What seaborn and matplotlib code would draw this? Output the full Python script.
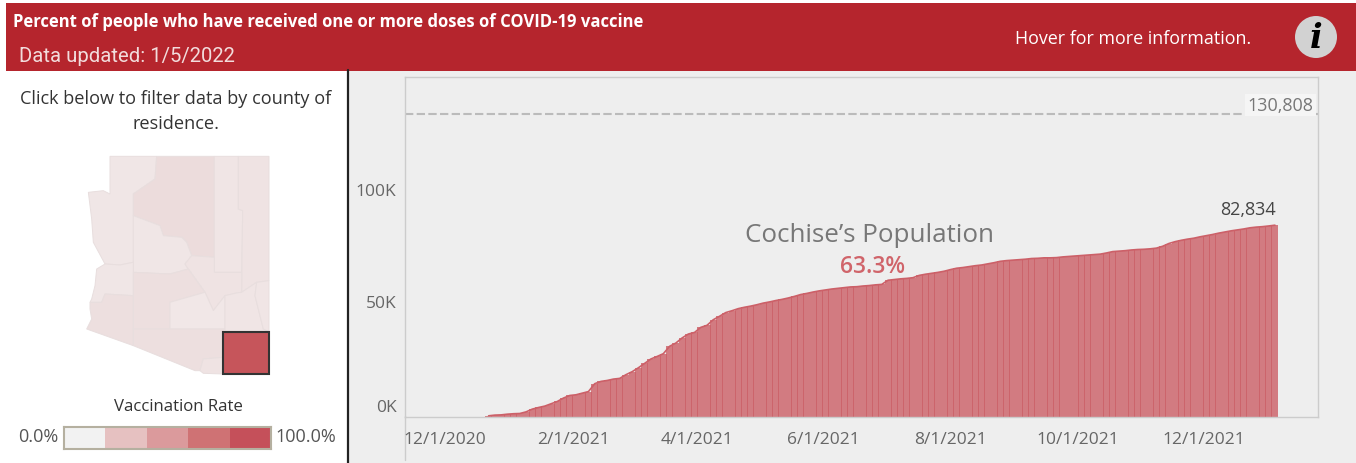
# plot.py: Cochise county vaccination dashboard, rebuilt with seaborn and matplotlib.

import matplotlib
matplotlib.use('Agg')
import matplotlib.dates as mdates
import matplotlib.pyplot as plt
import matplotlib.transforms as mtransforms
from matplotlib.colors import ListedColormap
from matplotlib.patches import Circle, Polygon, Rectangle
import numpy as np
import pandas as pd
import seaborn as sns

# Cumulative people with one or more doses (thousands), read every third day.
first_day = '2020-12-22'
doses_k = [
    0.3, 0.6, 0.7, 1.0, 1.2, 1.3, 2.0, 3.2, 3.9, 4.5,
    5.5, 6.5, 8.0, 9.1, 9.4, 10.1, 10.8, 14.2, 15.2, 15.6,
    16.2, 16.5, 18.1, 19.4, 21.1, 23.0, 24.9, 26.0, 27.2, 30.4,
    31.8, 34.0, 35.7, 36.4, 38.6, 39.5, 41.9, 43.4, 45.0, 45.8,
    46.7, 47.3, 47.8, 48.4, 49.1, 49.6, 50.2, 50.7, 51.3, 52.0,
    52.8, 53.3, 53.9, 54.4, 54.8, 55.2, 55.5, 55.8, 56.1, 56.2,
    56.5, 56.7, 57.0, 57.2, 59.0, 59.3, 59.6, 59.8, 60.1, 61.1,
    61.6, 62.0, 62.4, 62.9, 63.6, 64.2, 64.5, 64.9, 65.3, 65.6,
    66.1, 66.6, 67.2, 67.5, 67.7, 67.9, 68.1, 68.4, 68.5, 68.7,
    68.7, 68.8, 69.1, 69.3, 69.5, 69.7, 69.9, 70.1, 70.3, 70.8,
    71.4, 71.6, 71.8, 72.1, 72.3, 72.4, 72.6, 72.9, 73.7, 74.9,
    75.7, 76.3, 76.8, 77.2, 77.8, 78.3, 78.8, 79.4, 79.9, 80.4,
    80.8, 81.2, 81.7, 82.0, 82.2, 82.5, 82.834,
]
population = 130808
y_ticks = [0, 50000, 100000]
y_tick_labels = ['0K', '50K', '100K']
x_tick_dates = ['2020-12-01', '2021-02-01', '2021-04-01', '2021-06-01', '2021-08-01', '2021-10-01', '2021-12-01']
x_tick_labels = ['12/1/2020', '2/1/2021', '4/1/2021', '6/1/2021', '8/1/2021', '10/1/2021', '12/1/2021']
legend_colors = ['#f2f2f2', '#e6c1c1', '#db9a9c', '#cf7274', '#c5505a']

W, H = 1356, 464
RED = '#b5252d'


def px_box(x0, y0, x1, y1):
    # Turn a pixel box (origin top left) into figure coordinates.
    return [x0 / W, 1 - y1 / H, (x1 - x0) / W, (y1 - y0) / H]


# County outlines, in pixels of a 3x crop whose corner sits at (60, 140).
counties = [
    ('#f0e6e6', [(150, 52), (290, 52), (285, 120), (220, 165), (220, 370), (180, 378), (135, 375), (100, 310), (95, 240), (85, 160), (130, 155), (150, 165)]),
    ('#ecdcdc', [(290, 52), (463, 52), (463, 355), (395, 350), (380, 310), (365, 295), (310, 290), (300, 260), (220, 230), (220, 165), (285, 120)]),
    ('#f0e5e5', [(463, 52), (535, 52), (535, 210), (548, 215), (545, 400), (463, 400)]),
    ('#efe3e3', [(535, 52), (627, 52), (627, 425), (590, 430), (545, 460), (548, 215), (535, 210)]),
    ('#f0e6e6', [(220, 230), (300, 260), (310, 290), (365, 295), (380, 310), (395, 350), (375, 375), (385, 390), (330, 405), (220, 400)]),
    ('#efe3e3', [(395, 350), (463, 355), (463, 400), (545, 400), (545, 460), (530, 462), (495, 470), (460, 515), (435, 460), (385, 390), (375, 375)]),
    ('#f0e6e6', [(135, 375), (180, 378), (220, 370), (220, 470), (135, 465), (125, 490), (90, 490), (95, 480), (105, 440), (110, 390)]),
    ('#eddfdf', [(80, 570), (95, 540), (90, 510), (90, 490), (125, 490), (135, 465), (220, 470), (220, 620)]),
    ('#eddfdf', [(220, 400), (330, 405), (385, 390), (435, 460), (330, 490), (330, 570), (220, 570)]),
    ('#f1e7e7', [(330, 490), (435, 460), (460, 515), (495, 470), (495, 570), (330, 570)]),
    ('#eddfdf', [(220, 570), (330, 570), (495, 570), (490, 578), (490, 655), (430, 660), (420, 695), (405, 695), (220, 620)]),
    ('#efe3e3', [(430, 660), (490, 655), (490, 705), (430, 703), (420, 695)]),
    ('#f0e5e5', [(495, 470), (530, 462), (545, 460), (590, 430), (585, 470), (610, 570), (627, 578), (495, 578)]),
    ('#f0e5e5', [(590, 430), (627, 425), (627, 578), (610, 570), (585, 470)]),
]

sns.set_style('white')
plt.rcParams['font.family'] = ['Open Sans', 'DejaVu Sans']

dates = pd.date_range(first_day, periods=len(doses_k), freq='3D')
df = pd.DataFrame({'day': mdates.date2num(dates), 'people': np.array(doses_k) * 1000})

fig = plt.figure(figsize=(W / 100, H / 100), dpi=100, facecolor='#eeeeee')

# Page furniture sits behind everything, drawn in pixel coordinates.
page = fig.add_axes([0, 0, 1, 1], zorder=0)
page.set_xlim(0, W)
page.set_ylim(H, 0)
page.axis('off')
page.add_patch(Rectangle((0, 0), 348, H, color='white', lw=0))
page.add_patch(Rectangle((0, 0), W, 3.5, color='white', lw=0))
page.add_patch(Rectangle((6, 3.5), W - 6, 68, color=RED, lw=0))
page.plot([348, 348], [71, H], color='#222222', lw=1.6)
page.plot([405, 405], [417, 461], color='#cccccc', lw=1)

page.text(13, 22, 'Percent of people who have received one or more doses of COVID-19 vaccine',
          color='white', fontsize=12, fontweight='bold', va='center')
page.text(19, 56, 'Data updated: 1/5/2022', color='#f2dcdc', fontsize=14.6, family='Roboto', va='center')
page.text(1015, 39.5, 'Hover for more information.', color='white', fontsize=12.9, va='center')
page.add_patch(Circle((1316, 38), 21, color='#d2d2d2', lw=0))
page.text(1316, 38, 'i', color='black', fontsize=24, fontweight='bold', fontstyle='italic',
          family='DejaVu Serif', ha='center', va='center')

page.text(176, 99.5, 'Click below to filter data by county of', color='#333333', fontsize=13.1, ha='center', va='center')
page.text(176, 124, 'residence.', color='#333333', fontsize=13.1, ha='center', va='center')

for color, outline in counties:
    points = [(60 + x / 3, 140 + y / 3) for x, y in outline]
    page.add_patch(Polygon(points, facecolor=color, edgecolor='#e8dede', lw=0.7))
page.add_patch(Rectangle((223, 333), 46, 42, facecolor='#c6555b', edgecolor='#333333', lw=1.5))

page.text(178, 407.5, 'Vaccination Rate', color='#333333', fontsize=12.1, ha='center', va='center')
page.text(58, 437.5, '0.0%', color='#555555', fontsize=13, ha='right', va='center')
page.text(275, 437.5, '100.0%', color='#555555', fontsize=13, ha='left', va='center')

# Colour legend as a one row heatmap.
legend_ax = fig.add_axes(px_box(64, 428, 271, 450), zorder=1)
sns.heatmap([list(range(len(legend_colors)))], cmap=ListedColormap(legend_colors), cbar=False,
            xticklabels=False, yticklabels=False, ax=legend_ax)
for spine in legend_ax.spines.values():
    spine.set_visible(True)
    spine.set_color('#b5b0a0')
    spine.set_linewidth(1.5)

# Main chart.
ax = fig.add_axes(px_box(405, 78, 1318, 417.5), zorder=2)
ax.patch.set_alpha(0)
sns.barplot(data=df, x='day', y='people', native_scale=True, width=1.12, color='#cb5f66',
            saturation=1, alpha=0.8, linewidth=0, ax=ax)
sns.lineplot(data=df, x='day', y='people', color='#cc6068', lw=1.2, ax=ax)

ax.axhline(population, color='#bbbbbb', lw=1.5, ls=(0, (4, 1.6)))
start = mdates.date2num(pd.Timestamp('2020-12-01'))
ax.set_xlim(start - 19.2, start + 419.7)
ax.set_ylim(0, 147000)
ax.set_xticks(mdates.date2num(pd.to_datetime(x_tick_dates)), x_tick_labels)
ax.set_yticks(y_ticks, y_tick_labels)
ax.set_xlabel('')
ax.set_ylabel('')
ax.tick_params(axis='both', length=0, labelsize=12.5, labelcolor='#666666')
ax.tick_params(axis='x', pad=10.5)
ax.tick_params(axis='y', pad=6)
for spine in ax.spines.values():
    spine.set_visible(True)
    spine.set_color('#cccccc')
    spine.set_linewidth(1)

# The zero label sits above the baseline and the 100K label a little below its tick.
y_labels = [t.label1 for t in ax.yaxis.get_major_ticks()]
y_labels[0].set_transform(y_labels[0].get_transform() + mtransforms.ScaledTranslation(0, 8 / 72, fig.dpi_scale_trans))
y_labels[2].set_transform(y_labels[2].get_transform() + mtransforms.ScaledTranslation(0, -2.5 / 72, fig.dpi_scale_trans))

ax.text(start + 204, 79000, 'Cochise\u2019s Population', color='#777777', fontsize=18.75, ha='center', va='center')
ax.text(start + 205.5, 65300, '63.3%', color='#d0646a', fontsize=16.5, fontweight='semibold', ha='center', va='center')
ax.text(df['day'].iloc[-1] - 13, 89800, '82,834', color='#444444', fontsize=13, ha='center', va='center')
ax.text(start + 417.5, 134800, '130,808', color='#777777', fontsize=13, ha='right', va='center',
        bbox=dict(facecolor='#f5f5f5', edgecolor='none', pad=1.5))

plt.savefig('out.png', dpi=100, facecolor=fig.get_facecolor())
